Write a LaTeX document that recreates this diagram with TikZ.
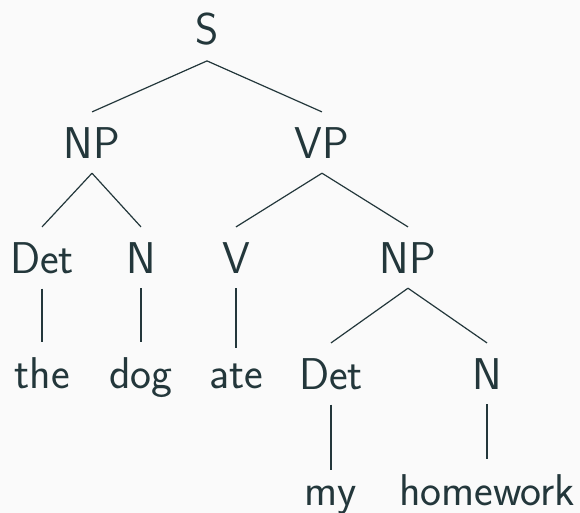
\documentclass[tikz,border=0pt]{standalone}
\usepackage{fontspec}
\definecolor{mteal}{HTML}{23373B}
\definecolor{mbg}{HTML}{FAFAFA}
\begin{document}
\begin{tikzpicture}[x=1pt,y=-1pt,
  lbl/.style={anchor=base,inner xsep=2pt,inner ysep=15pt,text=mteal,font=\sffamily\fontsize{44.5}{54}\selectfont},
  edge/.style={draw=mteal,line width=1.2pt}]
\fill[mbg] (0,0) rectangle (580,513);
\useasboundingbox (0,0) rectangle (580,513);
\node[lbl] (S) at (207,45) {S};
\node[lbl] (NP) at (92,158) {NP};
\node[lbl] (VP) at (322,158) {VP};
\node[lbl] (Det) at (42,273) {Det};
\node[lbl] (N) at (141,273) {N};
\node[lbl] (V) at (236,273) {V};
\node[lbl] (NPb) at (408,273) {NP};
\node[lbl] (the) at (42,388) {the};
\node[lbl] (dog) at (141,388) {dog};
\node[lbl] (ate) at (236,388) {ate};
\node[lbl] (Detb) at (331,389) {Det};
\node[lbl] (Nb) at (487,389) {N};
\node[lbl] (my) at (331,505) {my};
\node[lbl] (hw) at (487,505) {homework};
\draw[edge] (S.south) -- (NP.north);
\draw[edge] (S.south) -- (VP.north);
\draw[edge] (NP.south) -- (Det.north);
\draw[edge] (NP.south) -- (N.north);
\draw[edge] (VP.south) -- (V.north);
\draw[edge] (VP.south) -- (NPb.north);
\draw[edge] (Det.south) -- (the.north);
\draw[edge] (N.south) -- (dog.north);
\draw[edge] (V.south) -- (ate.north);
\draw[edge] (NPb.south) -- (Detb.north);
\draw[edge] (NPb.south) -- (Nb.north);
\draw[edge] (Detb.south) -- (my.north);
\draw[edge] (Nb.south) -- (hw.north);
\end{tikzpicture}
\end{document}
